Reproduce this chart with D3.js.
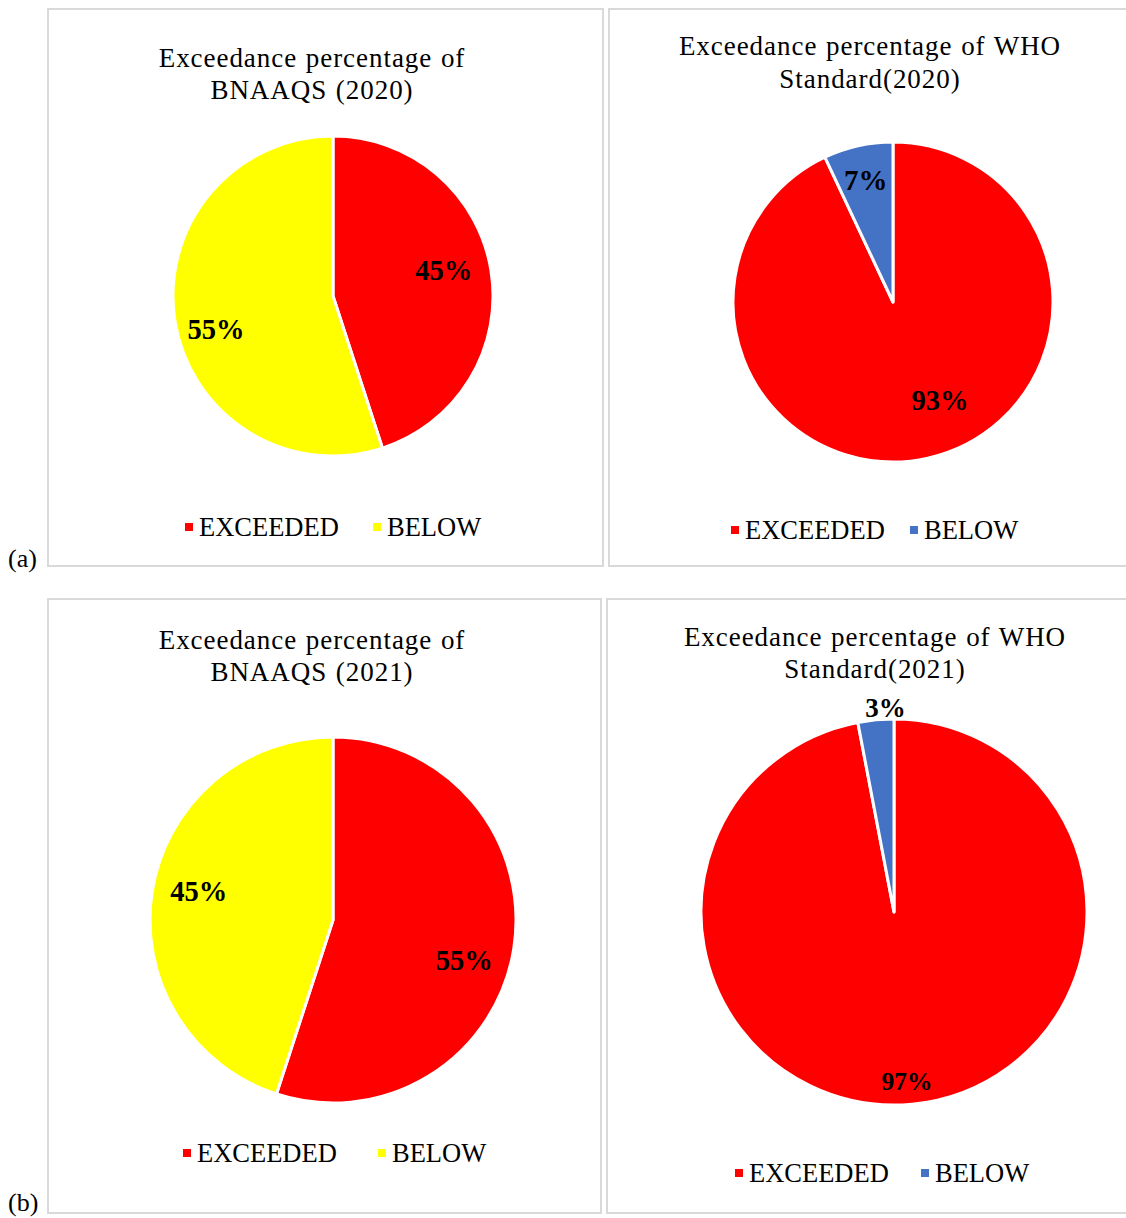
<!DOCTYPE html>
<html>
<head>
<meta charset="utf-8">
<script src="https://cdn.jsdelivr.net/npm/d3@7"></script>
<style>
  body { margin: 0; background: #fff; }
  svg { display: block; font-family: "Liberation Serif", "Times New Roman", serif; }
</style>
</head>
<body>
<div id="container"></div>
<script>
/**
 * DATA
 * */
const categories = ["EXCEEDED", "BELOW"];
const bnaaqs2020 = [45, 55];
const who2020 = [93, 7];
const bnaaqs2021 = [55, 45];
const who2021 = [97, 3];

const titles = [
  ["Exceedance percentage of", "BNAAQS (2020)"],
  ["Exceedance percentage of WHO", "Standard(2020)"],
  ["Exceedance percentage of", "BNAAQS (2021)"],
  ["Exceedance percentage of WHO", "Standard(2021)"]
];

const width = 1126, height = 1218;

// colours for each panel's two categories
const bnaaqsColors = ["#ff0000", "#ffff00"];
const whoColors = ["#ff0000", "#4472c4"];

// layout for each panel (box, pie centre and radius, label placement, legend)
const panels = [
  { values: bnaaqs2020, title: titles[0], colors: bnaaqsColors,
    box: [48, 9, 603, 566], titleX: 312, titleY: [58, 90],
    cx: 333, cy: 296, r: 160,
    labels: [[0.71, -4], [0.76, -7]], labelSize: [28.5, 28.5],
    legendY: 527, legendX: [185, 373] },
  { values: who2020, title: titles[1], colors: whoColors,
    box: [609, 9, 1130, 566], titleX: 870, titleY: [46, 79],
    cx: 893, cy: 302, r: 160,
    labels: [[0.68, -13], [0.78, 0]], labelSize: [28.5, 29],
    legendY: 530, legendX: [731, 910] },
  { values: bnaaqs2021, title: titles[2], colors: bnaaqsColors,
    box: [48, 599, 601, 1213], titleX: 312, titleY: [640, 672],
    cx: 333, cy: 920, r: 183,
    labels: [[0.75, 8], [0.75, 3]], labelSize: [28.5, 28.5],
    legendY: 1153, legendX: [183, 378] },
  { values: who2021, title: titles[3], colors: whoColors,
    box: [607, 599, 1130, 1213], titleX: 875, titleY: [637, 669],
    cx: 894, cy: 912, r: 193,
    labels: [[0.88, 1], [1.06, 3]], labelSize: [25.5, 27],
    legendY: 1173, legendX: [735, 921] }
];

const svg = d3.select("#container")
  .append("svg")
  .attr("width", width)
  .attr("height", height);

const pie = d3.pie().sort(null).value(d => d);

panels.forEach(p => {
  const g = svg.append("g");

  // panel frame
  g.append("rect")
    .attr("x", p.box[0])
    .attr("y", p.box[1])
    .attr("width", p.box[2] - p.box[0])
    .attr("height", p.box[3] - p.box[1])
    .attr("fill", "#fff")
    .attr("stroke", "#d9d9d9")
    .attr("stroke-width", 2);

  // title
  g.selectAll("text.title")
    .data(p.title)
    .join("text")
    .attr("class", "title")
    .attr("x", p.titleX)
    .attr("y", (d, i) => p.titleY[i])
    .attr("text-anchor", "middle")
    .attr("dominant-baseline", "central")
    .attr("font-size", 27)
    .attr("letter-spacing", 0.95)
    .attr("word-spacing", 1)
    .attr("fill", "#000")
    .text(d => d);

  // pie slices
  const arcs = pie(p.values);
  const arc = d3.arc().innerRadius(0).outerRadius(p.r);
  const pieG = g.append("g").attr("transform", `translate(${p.cx},${p.cy})`);

  pieG.selectAll("path")
    .data(arcs)
    .join("path")
    .attr("d", arc)
    .attr("fill", (d, i) => p.colors[i])
    .attr("stroke", "#fff")
    .attr("stroke-width", 3)
    .attr("stroke-linejoin", "round");

  // data labels
  pieG.selectAll("text")
    .data(arcs)
    .join("text")
    .attr("transform", (d, i) => {
      const [frac, shift] = p.labels[i];
      const a = (d.startAngle + d.endAngle) / 2 + shift * Math.PI / 180;
      const rr = p.r * frac;
      return `translate(${rr * Math.sin(a)},${-rr * Math.cos(a)})`;
    })
    .attr("text-anchor", "middle")
    .attr("dominant-baseline", "central")
    .attr("font-size", (d, i) => p.labelSize[i])
    .attr("font-weight", "bold")
    .attr("fill", "#000")
    .text(d => d.value + "%");

  // legend
  const leg = g.selectAll("g.legend")
    .data(categories)
    .join("g")
    .attr("class", "legend")
    .attr("transform", (d, i) => `translate(${p.legendX[i]},${p.legendY})`);

  leg.append("rect")
    .attr("x", 0)
    .attr("y", -4)
    .attr("width", 8)
    .attr("height", 8)
    .attr("fill", (d, i) => p.colors[i]);

  leg.append("text")
    .attr("x", 14)
    .attr("y", 0)
    .attr("dominant-baseline", "central")
    .attr("font-size", 26.5)
    .attr("fill", "#000")
    .text(d => d);
});

// sub-figure tags
svg.selectAll("text.tag")
  .data(["(a)", "(b)"])
  .join("text")
  .attr("class", "tag")
  .attr("x", 8)
  .attr("y", (d, i) => i === 0 ? 567 : 1211)
  .attr("font-size", 26)
  .attr("fill", "#000")
  .text(d => d);
</script>
</body>
</html>
